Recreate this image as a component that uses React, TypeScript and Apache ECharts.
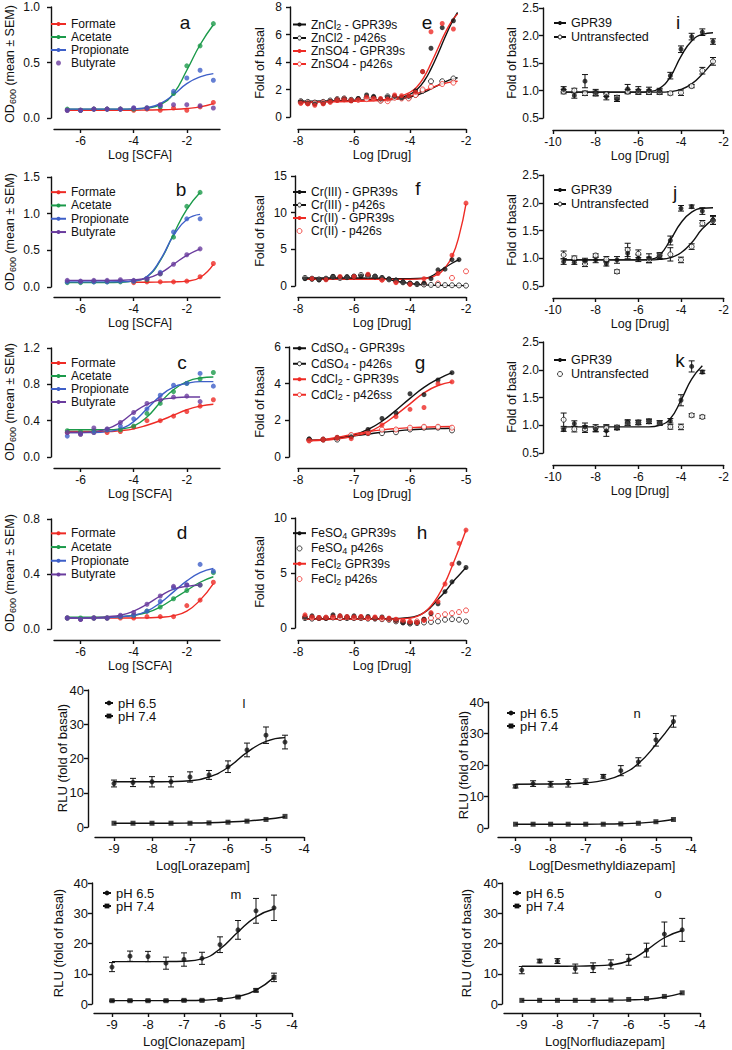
import React, { useEffect, useRef } from 'react';
import * as echarts from 'echarts';

const FONT = "'Liberation Sans', Arial, Helvetica, sans-serif";
const RED = '#ee2b25';
const GREEN = '#1b9a4a';
const BLUE = '#3e5fc8';
const PURPLE = '#6a3c9e';
const BLACK = '#111111';

// ---------- Panels a-d (SCFA) ----------
const scfaX = [-6.5, -6, -5.5, -5, -4.5, -4, -3.5, -3, -2.5, -2, -1.5, -1];
const scfaX11 = [-6.5, -6, -5.5, -5, -4.5, -4, -3.5, -3, -2.5, -2, -1.5];
const bFormateX = [-4, -3.5, -3, -2.5, -2, -1.5, -1];

const aFormate = [0.07, 0.07, 0.08, 0.08, 0.08, 0.07, 0.08, 0.07, 0.09, 0.07, 0.1, 0.14];
const aAcetate = [0.08, 0.07, 0.08, 0.08, 0.08, 0.08, 0.09, 0.1, 0.22, 0.47, 0.65, 0.85];
const aPropionate = [0.07, 0.07, 0.08, 0.08, 0.08, 0.09, 0.09, 0.11, 0.24, 0.36, 0.43, 0.34];
const aButyrate = [0.07, 0.07, 0.08, 0.08, 0.08, 0.09, 0.09, 0.12, 0.12, 0.12, 0.11, 0.09];
const aFormateFit = [0.07, 0.07, 0.07, 0.07, 0.07, 0.07, 0.072, 0.074, 0.078, 0.086, 0.1, 0.13];
const aAcetateFit = [0.08, 0.08, 0.08, 0.08, 0.08, 0.082, 0.09, 0.12, 0.22, 0.43, 0.66, 0.84];
const aPropionateFit = [0.08, 0.08, 0.08, 0.08, 0.08, 0.082, 0.092, 0.13, 0.21, 0.31, 0.37, 0.4];

const bFormate = [0.06, 0.07, 0.07, 0.07, 0.08, 0.14, 0.32];
const bFormateFit = [0.065, 0.065, 0.067, 0.07, 0.08, 0.13, 0.31];
const bAcetate = [0.06, 0.06, 0.07, 0.07, 0.07, 0.08, 0.1, 0.18, 0.68, 1.1, 1.29];
const bAcetateFit = [0.06, 0.06, 0.06, 0.06, 0.065, 0.08, 0.14, 0.36, 0.72, 1.06, 1.29];
const bPropionate = [0.07, 0.07, 0.07, 0.07, 0.08, 0.08, 0.12, 0.2, 0.75, 0.93, 0.93];
const bPropionateFit = [0.07, 0.07, 0.07, 0.07, 0.072, 0.085, 0.14, 0.37, 0.7, 0.92, 0.99];
const bButyrate = [0.09, 0.08, 0.09, 0.09, 0.1, 0.09, 0.11, 0.18, 0.31, 0.44, 0.52];
const bButyrateFit = [0.09, 0.09, 0.09, 0.09, 0.092, 0.1, 0.12, 0.19, 0.31, 0.43, 0.52];

const cFormate = [0.27, 0.25, 0.27, 0.27, 0.28, 0.33, 0.4, 0.4, 0.45, 0.5, 0.56, 0.63];
const cFormateFit = [0.28, 0.28, 0.28, 0.28, 0.29, 0.31, 0.35, 0.4, 0.46, 0.52, 0.56, 0.58];
const cAcetate = [0.29, 0.28, 0.29, 0.3, 0.3, 0.34, 0.48, 0.59, 0.72, 0.81, 0.86, 0.93];
const cAcetateFit = [0.3, 0.3, 0.3, 0.3, 0.31, 0.34, 0.44, 0.6, 0.74, 0.83, 0.87, 0.88];
const cPropionate = [0.23, 0.25, 0.27, 0.3, 0.34, 0.42, 0.53, 0.68, 0.79, 0.81, 0.92, 0.78];
const cPropionateFit = [0.27, 0.27, 0.27, 0.28, 0.31, 0.39, 0.53, 0.67, 0.77, 0.81, 0.83, 0.83];
const cButyrate = [0.27, 0.26, 0.32, 0.31, 0.38, 0.49, 0.59, 0.63, 0.66, 0.67, 0.61];
const cButyrateFit = [0.27, 0.27, 0.28, 0.31, 0.38, 0.49, 0.58, 0.63, 0.65, 0.66, 0.66];

const dFormate = [0.08, 0.07, 0.08, 0.08, 0.08, 0.08, 0.09, 0.09, 0.09, 0.17, 0.21, 0.34];
const dFormateFit = [0.08, 0.08, 0.08, 0.08, 0.08, 0.08, 0.081, 0.085, 0.097, 0.13, 0.21, 0.33];
const dAcetate = [0.08, 0.08, 0.08, 0.08, 0.09, 0.1, 0.13, 0.16, 0.22, 0.28, 0.32, 0.41];
const dAcetateFit = [0.085, 0.085, 0.085, 0.086, 0.09, 0.1, 0.12, 0.16, 0.22, 0.28, 0.34, 0.38];
const dPropionate = [0.08, 0.07, 0.08, 0.08, 0.09, 0.1, 0.13, 0.2, 0.3, 0.32, 0.47, 0.42];
const dPropionateFit = [0.08, 0.08, 0.08, 0.082, 0.09, 0.1, 0.13, 0.19, 0.27, 0.35, 0.41, 0.44];
const dButyrate = [0.08, 0.07, 0.08, 0.08, 0.1, 0.12, 0.18, 0.24, 0.31, 0.32, 0.32];
const dButyrateFit = [0.08, 0.08, 0.082, 0.09, 0.1, 0.13, 0.18, 0.24, 0.29, 0.31, 0.32];

// ---------- Panel e (zinc) ----------
const eX = [-7.9, -7.65, -7.4, -7.1, -6.85, -6.6, -6.35, -6.1, -5.85, -5.55, -5.3, -5.05, -4.8, -4.55, -4.3, -4.05, -3.8, -3.55, -3.25, -2.85, -2.45];
const eZnCl2G = [1.1, 1.0, 0.95, 1.0, 1.15, 1.25, 1.3, 1.2, 1.35, 1.6, 1.5, 1.3, 1.45, 1.5, 1.4, 1.5, 1.9, 3.3, 5.0, 6.5, 7.0];
const eZnCl2P = [1.15, 1.1, 1.05, 1.1, 1.2, 1.3, 1.35, 1.25, 1.3, 1.4, 1.4, 1.2, 1.5, 1.45, 1.4, 1.4, 1.6, 1.9, 2.6, 2.6, 2.8];
const eZnSO4G = [1.0, 0.95, 0.85, 0.95, 1.1, 1.2, 1.25, 1.2, 1.25, 1.45, 1.35, 1.35, 1.3, 1.6, 1.55, 1.55, 1.8, 3.3, 6.2, 6.8, 6.4];
const eZnSO4P = [1.05, 1.0, 1.0, 1.05, 1.1, 1.25, 1.3, 1.2, 1.25, 1.3, 1.35, 1.2, 1.15, 1.4, 1.35, 1.35, 1.6, 2.0, 2.2, 2.4, 2.5];
const eFitX = [-7.9, -7, -6, -5, -4.5, -4, -3.75, -3.5, -3.25, -3, -2.75, -2.5, -2.3];
const eZnCl2GFit = [1.1, 1.15, 1.2, 1.25, 1.35, 1.65, 2.0, 2.6, 3.5, 4.6, 5.8, 6.9, 7.6];
const eZnSO4GFit = [1.05, 1.1, 1.15, 1.25, 1.4, 1.8, 2.2, 2.9, 3.9, 5.0, 6.1, 7.0, 7.5];
const eZnCl2PFit = [1.15, 1.15, 1.2, 1.25, 1.3, 1.45, 1.6, 1.8, 2.05, 2.3, 2.55, 2.75, 2.85];
const eZnSO4PFit = [1.1, 1.12, 1.15, 1.2, 1.3, 1.5, 1.7, 1.9, 2.1, 2.3, 2.45, 2.55, 2.6];

// ---------- Panel f (chromium) ----------
const fX = [-7.75, -7.5, -7.25, -7, -6.75, -6.5, -6.25, -6, -5.75, -5.5, -5.25, -5, -4.75, -4.5, -4.25, -4, -3.75, -3.5, -3.25, -3, -2.75, -2.5, -2.25, -2];
const fCr3G = [1.0, 0.95, 0.85, 0.95, 1.3, 1.2, 1.25, 1.3, 1.35, 1.5, 1.3, 1.1, 0.95, 0.8, 0.55, 0.35, 0.3, 0.4, 1.0, 2.2, 2.3, 3.6, 3.6, null];
const fCr3P = [1.1, 1.0, 0.9, 1.0, 1.25, 1.1, 1.2, 1.3, 1.5, 1.4, 1.3, 1.1, 0.9, 0.75, 0.5, 0.35, 0.25, 0.2, 0.15, 0.15, 0.12, 0.1, 0.08, 0.05];
const fRedX = [-7.5, -7, -6.5, -6, -5.5, -5, -4.5, -4, -3.5, -3, -2.5, -2];
const fCr2G = [1.0, 0.85, 1.3, 1.3, 1.6, 0.8, 0.45, 0.25, 1.0, 1.7, 4.2, 11.3];
const fCr2PX = [-5, -4.5, -4, -3.5, -3, -2.5, -2];
const fCr2P = [0.9, 0.6, 0.3, 0.3, 0.35, 1.1, 2.0];
const fCr3GFitX = [-7.75, -6, -5, -4, -3.5, -3.25, -3, -2.5, -2.25];
const fCr3GFit = [1.0, 1.0, 1.0, 1.0, 1.05, 1.3, 1.9, 3.1, 3.6];
const fCr3PFitX = [-7.75, -6, -5, -4.75, -4.5, -4, -3.5, -3, -2];
const fCr3PFit = [1.1, 1.1, 1.05, 0.9, 0.65, 0.35, 0.15, 0.08, 0.05];
const fCr2GFitX = [-7.75, -6, -4, -3.5, -3, -2.75, -2.5, -2.25, -2];
const fCr2GFit = [0.9, 0.9, 0.9, 1.0, 1.6, 2.5, 4.0, 6.8, 11.2];

// ---------- Panel g (cadmium) ----------
const gX = [-7.8, -7.55, -7.3, -7.05, -6.75, -6.5, -6.25, -6.0, -5.75, -5.5, -5.25];
const gCdSO4G = [0.98, 0.95, 1.05, 1.1, 1.5, 2.1, 2.4, 3.45, 3.4, 4.2, 4.6];
const gCdSO4P = [0.95, 0.95, 0.95, 1.15, 1.3, 1.3, 1.35, 1.5, 1.6, 1.6, 1.45];
const gCdCl2G = [0.9, 0.95, 1.05, 1.0, 1.3, 1.75, 2.2, 2.6, 2.7, 4.0, 4.1];
const gCdCl2P = [0.9, 0.95, 1.05, 1.2, 1.35, 1.5, 1.5, 1.6, 1.65, 1.65, 1.6];
const gFitX = [-7.8, -7.5, -7.25, -7, -6.75, -6.5, -6.25, -6, -5.75, -5.5, -5.25];
const gCdSO4GFit = [0.9, 0.95, 1.05, 1.2, 1.5, 1.95, 2.55, 3.2, 3.8, 4.25, 4.6];
const gCdCl2GFit = [0.88, 0.92, 1.0, 1.15, 1.35, 1.75, 2.3, 2.9, 3.5, 3.9, 4.1];
const gCdSO4PFit = [0.9, 0.95, 1.05, 1.15, 1.25, 1.35, 1.42, 1.48, 1.52, 1.55, 1.57];
const gCdCl2PFit = [0.9, 0.97, 1.1, 1.25, 1.38, 1.48, 1.55, 1.6, 1.63, 1.65, 1.66];

// ---------- Panel h (iron) ----------
const hX = [-7.75, -7.5, -7.25, -7, -6.75, -6.5, -6.25, -6, -5.75, -5.5, -5.25, -5, -4.75, -4.5, -4.25, -4, -3.75, -3.5, -3.25, -3, -2.75, -2.5, -2.25, -2];
const hFeCl2G = [1.2, 1.0, 0.95, 0.95, 1.0, 1.1, 1.0, 1.0, 1.05, 0.95, 1.0, 0.95, 0.9, 0.8, 0.7, 0.55, 0.5, 0.7, 1.4, 2.4, 4.0, 5.8, 7.7, 8.9];
const hFeSO4G = [1.0, 1.1, 0.9, 0.9, 1.2, 1.1, 1.0, 1.1, 1.0, 1.05, 0.9, 1.0, 0.85, 0.7, 0.5, 0.45, 0.5, 0.8, 1.3, 2.2, 3.3, 4.2, 5.9, 5.5];
const hFeSO4P = [0.9, 0.85, 0.9, 0.9, 0.95, 0.9, 0.9, 0.9, 0.9, 0.85, 0.85, 0.8, 0.75, 0.6, 0.5, 0.4, 0.45, 0.5, 0.55, 0.6, 0.75, 0.8, 0.75, 0.6];
const hFeCl2P = [1.0, 0.95, 0.9, 0.95, 1.0, 0.95, 1.0, 0.95, 0.95, 0.9, 0.9, 0.85, 0.8, 0.7, 0.6, 0.55, 0.6, 0.75, 0.9, 1.1, 1.25, 1.35, 1.45, 1.6];
const hFitX = [-7.75, -6, -5, -4.5, -4, -3.75, -3.5, -3.25, -3, -2.75, -2.5, -2.25, -2];
const hFeCl2GFit = [0.8, 0.8, 0.8, 0.82, 0.9, 1.05, 1.4, 2.0, 2.9, 4.1, 5.6, 7.2, 8.9];
const hFeSO4GFit = [0.85, 0.85, 0.85, 0.87, 0.95, 1.1, 1.4, 1.9, 2.6, 3.3, 4.1, 4.8, 5.5];

// ---------- Panels i-k ----------
const ijX = [-9.5, -9, -8.5, -8, -7.5, -7, -6.5, -6, -5.5, -5, -4.5, -4, -3.5, -3, -2.5];
const kX = [-9.5, -9, -8.5, -8, -7.5, -7, -6.5, -6, -5.5, -5, -4.5, -4, -3.5, -3];
const iGPR = [1.02, 0.91, 1.17, 0.96, 0.89, 0.85, 1.03, 1.0, 1.0, 0.99, 1.27, 1.75, 1.98, 2.06, 1.89];
const iGPRErr = [0.05, 0.05, 0.12, 0.06, 0.06, 0.05, 0.08, 0.07, 0.06, 0.05, 0.06, 0.06, 0.06, 0.06, 0.05];
const iUnt = [0.98, 1.0, 0.95, 0.95, 0.93, 0.87, 0.98, 0.98, 0.97, 0.97, 0.95, 0.96, 1.08, 1.36, 1.53];
const iUntErr = [0.04, 0.04, 0.04, 0.04, 0.04, 0.04, 0.04, 0.04, 0.04, 0.04, 0.03, 0.05, 0.03, 0.06, 0.07];
const ijFitX = [-9.5, -6, -5.5, -5, -4.5, -4, -3.5, -3, -2.5];
const iGPRFit = [0.97, 0.97, 0.98, 1.04, 1.25, 1.62, 1.9, 2.02, 2.05];
const iUntFit = [0.97, 0.97, 0.97, 0.97, 0.98, 1.02, 1.12, 1.3, 1.52];
const jGPR = [0.94, 0.93, 0.95, 0.97, 0.9, 0.97, 1.09, 1.0, 1.0, 1.04, 1.32, 1.9, 1.93, 1.85, 1.69];
const jGPRErr = [0.05, 0.04, 0.05, 0.05, 0.04, 0.06, 0.1, 0.06, 0.08, 0.05, 0.08, 0.05, 0.03, 0.06, 0.08];
const jUnt = [1.06, 1.0, 0.9, 1.05, 0.98, 0.76, 1.15, 1.08, 0.97, 1.05, 1.07, 0.97, 1.21, 1.63, 1.68];
const jUntErr = [0.07, 0.04, 0.05, 0.03, 0.05, 0.03, 0.12, 0.07, 0.05, 0.05, 0.12, 0.05, 0.05, 0.05, 0.07];
const jGPRFit = [0.97, 0.97, 0.98, 1.06, 1.33, 1.64, 1.83, 1.9, 1.91];
const jUntFit = [0.97, 0.97, 0.97, 0.98, 1.01, 1.1, 1.28, 1.53, 1.7];
const kGPR = [0.92, 1.03, 0.97, 0.93, 0.9, 0.95, 1.05, 1.05, 1.07, 1.04, 1.08, 1.45, 2.06, 1.96];
const kGPRErr = [0.03, 0.05, 0.07, 0.05, 0.1, 0.03, 0.05, 0.04, 0.04, 0.04, 0.04, 0.1, 0.1, 0.03];
const kUnt = [1.1, 0.93, 0.93, 0.95, 0.95, 0.96, 1.04, 1.05, 1.07, 1.04, 0.97, 0.97, 1.18, 1.15];
const kUntErr = [0.12, 0.05, 0.06, 0.06, 0.06, 0.04, 0.04, 0.04, 0.04, 0.04, 0.04, 0.05, 0.03, 0.03];
const kFitX = [-9.5, -5.5, -5, -4.5, -4, -3.5, -3];
const kGPRFit = [0.97, 0.97, 1.0, 1.12, 1.45, 1.83, 2.07];

// ---------- Panels l, n, m, o (benzodiazepines) ----------
const bzX = [-9, -8.5, -8, -7.5, -7, -6.5, -6, -5.5, -5, -4.5];
const bzFitX = [-9, -8, -7.5, -7, -6.5, -6, -5.5, -5, -4.5];
const l65 = [12.7, 13.0, 13.2, 13.2, 14.6, 15.2, 17.6, 22.5, 26.8, 24.8];
const l65Err = [1.0, 1.2, 1.5, 1.5, 1.5, 1.3, 1.7, 2.0, 2.4, 2.0];
const l74 = [1.1, 1.1, 1.1, 1.1, 1.1, 1.2, 1.4, 1.7, 2.2, 3.1];
const l65Fit = [13.2, 13.2, 13.25, 13.5, 14.6, 17.4, 21.8, 25.0, 26.1];
const l74Fit = [1.1, 1.1, 1.1, 1.15, 1.25, 1.45, 1.75, 2.25, 3.0];
const n65 = [13.2, 14.1, 13.9, 14.2, 14.7, 16.4, 18.2, 21.0, 28.0, 33.8];
const n65Err = [0.5, 0.9, 0.9, 1.2, 0.9, 0.6, 1.6, 1.3, 2.0, 1.8];
const n74 = [1.2, 1.2, 1.2, 1.2, 1.2, 1.2, 1.3, 1.5, 2.0, 2.7];
const n65Fit = [13.9, 13.95, 14.05, 14.35, 15.1, 16.9, 20.5, 26.5, 33.6];
const n74Fit = [1.2, 1.2, 1.2, 1.2, 1.25, 1.35, 1.55, 1.95, 2.7];
const m65 = [12.2, 15.8, 15.7, 13.5, 14.7, 15.1, 19.6, 24.5, 30.8, 31.8];
const m65Err = [1.5, 1.7, 1.7, 2.0, 2.2, 2.0, 2.6, 3.1, 4.1, 4.2];
const m74 = [1.1, 1.1, 1.1, 1.1, 1.2, 1.2, 1.5, 2.3, 4.5, 8.8];
const m74Err = [0.2, 0.2, 0.2, 0.2, 0.2, 0.2, 0.2, 0.3, 0.5, 1.4];
const m65Fit = [14.0, 14.0, 14.02, 14.15, 14.9, 18.2, 23.8, 28.8, 31.4];
const m74Fit = [1.1, 1.1, 1.1, 1.15, 1.25, 1.6, 2.5, 4.6, 8.8];
const o65 = [11.2, 14.2, 14.2, 11.7, 12.0, 13.1, 14.6, 17.8, 23.1, 24.5];
const o65Err = [1.2, 0.6, 0.8, 1.5, 1.6, 1.5, 1.8, 2.3, 4.0, 3.8];
const o74 = [1.2, 1.2, 1.2, 1.2, 1.2, 1.3, 1.5, 1.8, 2.5, 3.7];
const o65Fit = [12.5, 12.5, 12.52, 12.62, 12.95, 14.3, 17.8, 21.9, 24.3];
const o74Fit = [1.2, 1.2, 1.2, 1.2, 1.25, 1.35, 1.6, 2.3, 3.6];

// ---------- Axis tick values ----------
const scfaTicks = [-6, -4, -2];
const drugTicks = [-8, -6, -4, -2];
const cdTicks = [-8, -7, -6, -5];
const ikTicks = [-10, -8, -6, -4, -2];
const bzTicks = [-9, -8, -7, -6, -5, -4];

// ---------- Layout (grid index order: a b c d e f g h i j k l n m o) ----------
const layouts = [
  { left: 54, top: 7, width: 166, height: 111, xMin: -7, xMax: -0.75, xTicks: scfaTicks, yMin: 0, yMax: 1, yTicks: [0, 0.5, 1], dec: 1, yOff: 3, xOff: 11, fs: 12, yMargin: 11, xMargin: 6 },
  { left: 54, top: 177, width: 166, height: 110, xMin: -7, xMax: -0.75, xTicks: scfaTicks, yMin: 0, yMax: 1.5, yTicks: [0, 0.5, 1, 1.5], dec: 1, yOff: 3, xOff: 10, fs: 12, yMargin: 11, xMargin: 6 },
  { left: 54, top: 348, width: 166, height: 109, xMin: -7, xMax: -0.75, xTicks: scfaTicks, yMin: 0, yMax: 1.2, yTicks: [0, 0.4, 0.8, 1.2], dec: 1, yOff: 3, xOff: 11, fs: 12, yMargin: 11, xMargin: 6 },
  { left: 54, top: 519, width: 166, height: 110, xMin: -7, xMax: -0.75, xTicks: scfaTicks, yMin: 0, yMax: 0.8, yTicks: [0, 0.4, 0.8], dec: 1, yOff: 3, xOff: 11, fs: 12, yMargin: 11, xMargin: 6 },
  { left: 298, top: 7, width: 168, height: 110, xMin: -8, xMax: -2, xTicks: drugTicks, yMin: 0, yMax: 8, yTicks: [0, 2, 4, 6, 8], dec: 0, yOff: 8, xOff: 12, fs: 12, yMargin: 8, xMargin: 6 },
  { left: 298, top: 176, width: 168, height: 110, xMin: -8, xMax: -2, xTicks: drugTicks, yMin: 0, yMax: 15, yTicks: [0, 5, 10, 15], dec: 0, yOff: 3, xOff: 11, fs: 12, yMargin: 8, xMargin: 6 },
  { left: 298, top: 347, width: 168, height: 110, xMin: -8, xMax: -5, xTicks: cdTicks, yMin: 0, yMax: 6, yTicks: [0, 2, 4, 6], dec: 0, yOff: 9, xOff: 11, fs: 12, yMargin: 8, xMargin: 6 },
  { left: 298, top: 518, width: 168, height: 110, xMin: -8, xMax: -2, xTicks: drugTicks, yMin: 0, yMax: 10, yTicks: [0, 5, 10], dec: 0, yOff: 3, xOff: 12, fs: 12, yMargin: 8, xMargin: 6 },
  { left: 553, top: 8, width: 173, height: 110, xMin: -10, xMax: -2, xTicks: ikTicks, yMin: 0.5, yMax: 2.5, yTicks: [0.5, 1, 1.5, 2, 2.5], dec: 1, yOff: 10, xOff: 12, fs: 12, yMargin: 4, xMargin: 6 },
  { left: 553, top: 175, width: 173, height: 111, xMin: -10, xMax: -2, xTicks: ikTicks, yMin: 0.5, yMax: 2.5, yTicks: [0.5, 1, 1.5, 2, 2.5], dec: 1, yOff: 10, xOff: 12, fs: 12, yMargin: 4, xMargin: 6 },
  { left: 553, top: 342, width: 173, height: 111, xMin: -10, xMax: -2, xTicks: ikTicks, yMin: 0.5, yMax: 2.5, yTicks: [0.5, 1, 1.5, 2, 2.5], dec: 1, yOff: 10, xOff: 12, fs: 12, yMargin: 4, xMargin: 6 },
  { left: 95, top: 690, width: 209, height: 137, xMin: -9.5, xMax: -4, xTicks: bzTicks, yMin: 0, yMax: 40, yTicks: [0, 10, 20, 30, 40], dec: 0, yOff: 7, xOff: 10, fs: 13, yMargin: 4, xMargin: 5 },
  { left: 498, top: 702, width: 193, height: 126, xMin: -9.5, xMax: -4, xTicks: bzTicks, yMin: 0, yMax: 40, yTicks: [0, 10, 20, 30, 40], dec: 0, yOff: 10, xOff: 9, fs: 13, yMargin: 4, xMargin: 5 },
  { left: 94, top: 883, width: 198, height: 121, xMin: -9.5, xMax: -4, xTicks: bzTicks, yMin: 0, yMax: 40, yTicks: [0, 10, 20, 30, 40], dec: 0, yOff: 2, xOff: 9, fs: 13, yMargin: 4, xMargin: 5 },
  { left: 504, top: 883, width: 196, height: 121, xMin: -9.5, xMax: -4, xTicks: bzTicks, yMin: 0, yMax: 40, yTicks: [0, 10, 20, 30, 40], dec: 0, yOff: 2, xOff: 9, fs: 13, yMargin: 4, xMargin: 5 },
];

const LABELS: Record<string, string> = {
  'e:ZnCl2 - GPR39s': '{n|ZnCl}{s|2}{n| - GPR39s}',
  'g:CdSO4 - GPR39s': '{n|CdSO}{s|4}{n| - GPR39s}',
  'g:CdSO4 - p426s': '{n|CdSO}{s|4}{n| - p426s}',
  'g:CdCl2 - GPR39s': '{n|CdCl}{s|2}{n| - GPR39s}',
  'g:CdCl2 - p426ss': '{n|CdCl}{s|2}{n| - p426ss}',
  'h:FeSO4 GPR39s': '{n|FeSO}{s|4}{n| GPR39s}',
  'h:FeSO4 p426s': '{n|FeSO}{s|4}{n| p426s}',
  'h:FeCl2 GPR39s': '{n|FeCl}{s|2}{n| GPR39s}',
  'h:FeCl2 p426s': '{n|FeCl}{s|2}{n| p426s}',
};

function pairs(xs: number[], ys: (number | null)[]) {
  const out: number[][] = [];
  xs.forEach((x, i) => {
    const y = ys[i];
    if (y !== null && y !== undefined) out.push([x, y]);
  });
  return out;
}

function pts(p: number, name: string, xs: number[], ys: (number | null)[], color: string, open = false, symbol = 'circle', size = 5) {
  return {
    type: 'scatter', name, xAxisIndex: p, yAxisIndex: p,
    data: pairs(xs, ys), symbol, symbolSize: size, silent: true, z: 5,
    itemStyle: open ? { color: '#ffffff', borderColor: color, borderWidth: 1 } : { color, borderWidth: 0 },
  };
}

function fit(p: number, name: string, xs: number[], ys: number[], color: string, open = false, symbol = 'circle') {
  return {
    type: 'line', name, xAxisIndex: p, yAxisIndex: p,
    data: pairs(xs, ys), smooth: 0.5, showSymbol: false, symbol, silent: true, z: 3,
    lineStyle: { color, width: 1.4 },
    itemStyle: open ? { color: '#ffffff', borderColor: color, borderWidth: 1 } : { color, borderWidth: 0 },
  };
}

function errs(p: number, xs: number[], ys: number[], es: number[], color: string, cap = 3) {
  return {
    type: 'custom', xAxisIndex: p, yAxisIndex: p, silent: true, z: 4,
    encode: { x: 0, y: [1, 2] },
    data: xs.map((x, i) => [x, ys[i] - es[i], ys[i] + es[i]]),
    renderItem: (_params: any, api: any) => {
      const lo = api.coord([api.value(0), api.value(1)]);
      const hi = api.coord([api.value(0), api.value(2)]);
      const st = { stroke: color, lineWidth: 1 };
      return {
        type: 'group',
        children: [
          { type: 'line', shape: { x1: lo[0], y1: lo[1], x2: hi[0], y2: hi[1] }, style: st },
          { type: 'line', shape: { x1: lo[0] - cap, y1: lo[1], x2: lo[0] + cap, y2: lo[1] }, style: st },
          { type: 'line', shape: { x1: hi[0] - cap, y1: hi[1], x2: hi[0] + cap, y2: hi[1] }, style: st },
        ],
      };
    },
  };
}

function leg(left: number, top: number, names: string[], itemWidth: number, lh: number, fs: number, itemHeight = 5) {
  return {
    show: true, orient: 'vertical', left, top, padding: 0, itemGap: 0, itemWidth, itemHeight,
    selectedMode: false, data: names,
    formatter: (n: string) => LABELS[n] || `{n|${n.slice(n.indexOf(':') + 1)}}`,
    itemStyle: { borderWidth: 1 },
    textStyle: {
      fontSize: fs, fontFamily: FONT, color: BLACK, lineHeight: lh,
      rich: {
        n: { fontSize: fs, fontFamily: FONT, color: BLACK, lineHeight: lh },
        s: { fontSize: Math.round(fs * 0.72), fontFamily: FONT, color: BLACK, lineHeight: lh - 5, padding: [5, 0, 0, 0] },
      },
    },
  };
}

function txt(text: string, x: number, y: number, size: number, rotate = false, rich = false) {
  const style: any = {
    text, x: 0, y: 0, font: `${size}px ${FONT}`, fill: BLACK,
    align: 'center', verticalAlign: 'middle', textAlign: 'center', textVerticalAlign: 'middle',
  };
  if (rich) {
    style.rich = {
      n: { fontSize: size, fontFamily: FONT, fill: BLACK, color: BLACK },
      s: { fontSize: Math.round(size * 0.72), fontFamily: FONT, fill: BLACK, color: BLACK, padding: [5, 0, 0, 0] },
    };
  }
  return { type: 'text', x, y, rotation: rotate ? Math.PI / 2 : 0, silent: true, style };
}

function buildOption() {
  const grid = layouts.map((L) => ({ left: L.left, top: L.top, width: L.width, height: L.height }));
  const axisLine = { show: true, onZero: false, lineStyle: { color: BLACK, width: 1.4 } };
  const xAxis = layouts.map((L, i) => ({
    type: 'value', gridIndex: i, min: L.xMin, max: L.xMax, offset: L.xOff,
    axisLine,
    axisTick: { show: true, inside: false, length: 4, customValues: L.xTicks, lineStyle: { color: BLACK, width: 1.4 } },
    axisLabel: { show: true, customValues: L.xTicks, margin: L.xMargin, fontSize: L.fs, fontFamily: FONT, color: BLACK, formatter: (v: number) => String(v) },
    splitLine: { show: false },
  }));
  const yAxis = layouts.map((L, i) => ({
    type: 'value', gridIndex: i, min: L.yMin, max: L.yMax, offset: L.yOff,
    axisLine,
    axisTick: { show: true, inside: false, length: 4, customValues: L.yTicks, lineStyle: { color: BLACK, width: 1.4 } },
    axisLabel: { show: true, customValues: L.yTicks, margin: L.yMargin, fontSize: L.fs, fontFamily: FONT, color: BLACK, formatter: (v: number) => v.toFixed(L.dec) },
    splitLine: { show: false },
  }));

  const s: any[] = [];
  // a
  s.push(fit(0, 'a:Formate', scfaX, aFormateFit, RED), fit(0, 'a:Acetate', scfaX, aAcetateFit, GREEN), fit(0, 'a:Propionate', scfaX, aPropionateFit, BLUE));
  s.push(pts(0, 'a-Formate', scfaX, aFormate, RED), pts(0, 'a-Acetate', scfaX, aAcetate, GREEN), pts(0, 'a-Propionate', scfaX, aPropionate, BLUE), pts(0, 'a:Butyrate', scfaX, aButyrate, PURPLE));
  // b
  s.push(fit(1, 'b:Formate', bFormateX, bFormateFit, RED), fit(1, 'b:Acetate', scfaX11, bAcetateFit, GREEN), fit(1, 'b:Propionate', scfaX11, bPropionateFit, BLUE), fit(1, 'b:Butyrate', scfaX11, bButyrateFit, PURPLE));
  s.push(pts(1, 'b-Formate', bFormateX, bFormate, RED), pts(1, 'b-Acetate', scfaX11, bAcetate, GREEN), pts(1, 'b-Propionate', scfaX11, bPropionate, BLUE), pts(1, 'b-Butyrate', scfaX11, bButyrate, PURPLE));
  // c
  s.push(fit(2, 'c:Formate', scfaX, cFormateFit, RED), fit(2, 'c:Acetate', scfaX, cAcetateFit, GREEN), fit(2, 'c:Propionate', scfaX, cPropionateFit, BLUE), fit(2, 'c:Butyrate', scfaX11, cButyrateFit, PURPLE));
  s.push(pts(2, 'c-Formate', scfaX, cFormate, RED), pts(2, 'c-Acetate', scfaX, cAcetate, GREEN), pts(2, 'c-Propionate', scfaX, cPropionate, BLUE), pts(2, 'c-Butyrate', scfaX11, cButyrate, PURPLE));
  // d
  s.push(fit(3, 'd:Formate', scfaX, dFormateFit, RED), fit(3, 'd:Acetate', scfaX, dAcetateFit, GREEN), fit(3, 'd:Propionate', scfaX, dPropionateFit, BLUE), fit(3, 'd:Butyrate', scfaX11, dButyrateFit, PURPLE));
  s.push(pts(3, 'd-Formate', scfaX, dFormate, RED), pts(3, 'd-Acetate', scfaX, dAcetate, GREEN), pts(3, 'd-Propionate', scfaX, dPropionate, BLUE), pts(3, 'd-Butyrate', scfaX11, dButyrate, PURPLE));
  // e
  s.push(fit(4, 'e:ZnCl2 - GPR39s', eFitX, eZnCl2GFit, BLACK), fit(4, 'e:ZnCl2 - p426s', eFitX, eZnCl2PFit, BLACK, true), fit(4, 'e:ZnSO4 - GPR39s', eFitX, eZnSO4GFit, RED), fit(4, 'e:ZnSO4 - p426s', eFitX, eZnSO4PFit, RED, true));
  s.push(pts(4, 'e-1', eX, eZnCl2P, BLACK, true), pts(4, 'e-2', eX, eZnSO4P, RED, true), pts(4, 'e-3', eX, eZnCl2G, BLACK), pts(4, 'e-4', eX, eZnSO4G, RED));
  // f
  s.push(fit(5, 'f:Cr(III) - GPR39s', fCr3GFitX, fCr3GFit, BLACK), fit(5, 'f:Cr(III) - p426s', fCr3PFitX, fCr3PFit, BLACK, true), fit(5, 'f:Cr(II) - GPR39s', fCr2GFitX, fCr2GFit, RED));
  s.push(pts(5, 'f:Cr(II) - p426s', fCr2PX, fCr2P, RED, true), pts(5, 'f-1', fX, fCr3P, BLACK, true), pts(5, 'f-2', fX, fCr3G, BLACK), pts(5, 'f-3', fRedX, fCr2G, RED));
  // g
  s.push(fit(6, 'g:CdSO4 - GPR39s', gFitX, gCdSO4GFit, BLACK), fit(6, 'g:CdSO4 - p426s', gFitX, gCdSO4PFit, BLACK, true), fit(6, 'g:CdCl2 - GPR39s', gFitX, gCdCl2GFit, RED), fit(6, 'g:CdCl2 - p426ss', gFitX, gCdCl2PFit, RED, true));
  s.push(pts(6, 'g-1', gX, gCdSO4P, BLACK, true), pts(6, 'g-2', gX, gCdCl2P, RED, true), pts(6, 'g-3', gX, gCdSO4G, BLACK), pts(6, 'g-4', gX, gCdCl2G, RED));
  // h
  s.push(fit(7, 'h:FeSO4 GPR39s', hFitX, hFeSO4GFit, BLACK), fit(7, 'h:FeCl2 GPR39s', hFitX, hFeCl2GFit, RED));
  s.push(pts(7, 'h:FeSO4 p426s', hX, hFeSO4P, BLACK, true), pts(7, 'h:FeCl2 p426s', hX, hFeCl2P, RED, true), pts(7, 'h-1', hX, hFeSO4G, BLACK), pts(7, 'h-2', hX, hFeCl2G, RED));
  // i
  s.push(fit(8, 'i:GPR39', ijFitX, iGPRFit, BLACK), fit(8, 'i:Untransfected', ijFitX, iUntFit, BLACK, true));
  s.push(errs(8, ijX, iGPR, iGPRErr, BLACK), errs(8, ijX, iUnt, iUntErr, BLACK));
  s.push(pts(8, 'i-1', ijX, iUnt, BLACK, true), pts(8, 'i-2', ijX, iGPR, BLACK));
  // j
  s.push(fit(9, 'j:GPR39', ijFitX, jGPRFit, BLACK), fit(9, 'j:Untransfected', ijFitX, jUntFit, BLACK, true));
  s.push(errs(9, ijX, jGPR, jGPRErr, BLACK), errs(9, ijX, jUnt, jUntErr, BLACK));
  s.push(pts(9, 'j-1', ijX, jUnt, BLACK, true), pts(9, 'j-2', ijX, jGPR, BLACK));
  // k
  s.push(fit(10, 'k:GPR39', kFitX, kGPRFit, BLACK));
  s.push(errs(10, kX, kGPR, kGPRErr, BLACK), errs(10, kX, kUnt, kUntErr, BLACK));
  s.push(pts(10, 'k:Untransfected', kX, kUnt, BLACK, true), pts(10, 'k-2', kX, kGPR, BLACK));
  // l, n, m, o
  const bz = [
    { p: 11, k: 'l', a: l65, ae: l65Err, b: l74, af: l65Fit, bf: l74Fit, be: null as number[] | null },
    { p: 12, k: 'n', a: n65, ae: n65Err, b: n74, af: n65Fit, bf: n74Fit, be: null as number[] | null },
    { p: 13, k: 'm', a: m65, ae: m65Err, b: m74, af: m65Fit, bf: m74Fit, be: m74Err },
    { p: 14, k: 'o', a: o65, ae: o65Err, b: o74, af: o65Fit, bf: o74Fit, be: null as number[] | null },
  ];
  bz.forEach((B) => {
    s.push(fit(B.p, `${B.k}:pH 6.5`, bzFitX, B.af, BLACK), fit(B.p, `${B.k}:pH 7.4`, bzFitX, B.bf, BLACK, false, 'rect'));
    s.push(errs(B.p, bzX, B.a, B.ae, BLACK));
    if (B.be) s.push(errs(B.p, bzX, B.b, B.be, BLACK));
    s.push(pts(B.p, `${B.k}-1`, bzX, B.a, BLACK, false, 'circle', 5), pts(B.p, `${B.k}-2`, bzX, B.b, BLACK, false, 'rect', 5));
  });

  const legend = [
    leg(50, 17.5, ['a:Formate', 'a:Acetate', 'a:Propionate', 'a:Butyrate'], 15, 13, 12),
    leg(50, 185.5, ['b:Formate', 'b:Acetate', 'b:Propionate', 'b:Butyrate'], 15, 13.3, 12),
    leg(50, 356.5, ['c:Formate', 'c:Acetate', 'c:Propionate', 'c:Butyrate'], 15, 13, 12),
    leg(50, 526.5, ['d:Formate', 'd:Acetate', 'd:Propionate', 'd:Butyrate'], 15, 13.7, 12),
    leg(292, 17.5, ['e:ZnCl2 - GPR39s', 'e:ZnCl2 - p426s', 'e:ZnSO4 - GPR39s', 'e:ZnSO4 - p426s'], 13, 13, 12),
    leg(292, 185.5, ['f:Cr(III) - GPR39s', 'f:Cr(III) - p426s', 'f:Cr(II) - GPR39s', 'f:Cr(II) - p426s'], 13, 13, 12),
    leg(292, 340.5, ['g:CdSO4 - GPR39s', 'g:CdSO4 - p426s', 'g:CdCl2 - GPR39s', 'g:CdCl2 - p426ss'], 13, 15.5, 12),
    leg(292, 525.5, ['h:FeSO4 GPR39s', 'h:FeSO4 p426s', 'h:FeCl2 GPR39s', 'h:FeCl2 p426s'], 13, 15.3, 12),
    leg(553, 16, ['i:GPR39', 'i:Untransfected'], 12, 14, 12.5),
    leg(553, 183, ['j:GPR39', 'j:Untransfected'], 12, 14, 12.5),
    leg(553, 353, ['k:GPR39', 'k:Untransfected'], 12, 14, 12.5),
    leg(104, 696.5, ['l:pH 6.5', 'l:pH 7.4'], 8, 11, 13, 6),
    leg(506, 706.5, ['n:pH 6.5', 'n:pH 7.4'], 8, 11, 13, 6),
    leg(102, 886.5, ['m:pH 6.5', 'm:pH 7.4'], 8, 11, 13, 6),
    leg(512, 886.5, ['o:pH 6.5', 'o:pH 7.4'], 8, 11, 13, 6),
  ];

  const od = '{n|OD}{s|600}{n| (mean ± SEM)}';
  const graphic = [
    // panel letters
    txt('a', 185, 22, 19), txt('b', 181, 189, 19), txt('c', 182, 362, 19), txt('d', 182, 532, 19),
    txt('e', 427, 22, 19), txt('f', 418, 188, 19), txt('g', 420, 362, 19), txt('h', 422, 532, 19),
    txt('i', 678, 22, 19), txt('j', 675, 192, 19), txt('k', 680, 360, 19),
    txt('l', 244, 703, 13), txt('n', 637, 713, 13), txt('m', 236, 894, 13), txt('o', 658, 893, 13),
    // x titles
    txt('Log [SCFA]', 140, 155, 12.5), txt('Log [SCFA]', 140, 323, 12.5), txt('Log [SCFA]', 140, 494, 12.5), txt('Log [SCFA]', 140, 666, 12.5),
    txt('Log [Drug]', 382, 155, 12.5), txt('Log [Drug]', 382, 323, 12.5), txt('Log [Drug]', 382, 494, 12.5), txt('Log [Drug]', 382, 666, 12.5),
    txt('Log [Drug]', 640, 156, 12.5), txt('Log [Drug]', 640, 324, 12.5), txt('Log [Drug]', 640, 491, 12.5),
    txt('Log[Lorazepam]', 203, 865, 13), txt('Log[Desmethyldiazepam]', 602, 865, 13),
    txt('Log[Clonazepam]', 194, 1041, 13), txt('Log[Norfludiazepam]', 605, 1041, 13),
    // y titles
    txt(od, 10, 64, 12.5, true, true), txt(od, 10, 232, 12.5, true, true), txt(od, 10, 402, 12.5, true, true), txt(od, 10, 573, 12.5, true, true),
    txt('Fold of basal', 260, 63, 12.5, true), txt('Fold of basal', 260, 231, 12.5, true), txt('Fold of basal', 260, 402, 12.5, true), txt('Fold of basal', 260, 572, 12.5, true),
    txt('Fold of basal', 512, 63, 12.5, true), txt('Fold of basal', 512, 230, 12.5, true), txt('Fold of basal', 512, 397, 12.5, true),
    txt('RLU (fold of basal)', 62, 758, 13, true), txt('RLU (fold of basal)', 463, 765, 13, true),
    txt('RLU (fold of basal)', 58, 943, 13, true), txt('RLU (fold of basal)', 466, 943, 13, true),
  ];

  return {
    animation: false,
    backgroundColor: '#ffffff',
    textStyle: { fontFamily: FONT },
    grid, xAxis, yAxis, series: s, legend, graphic,
  };
}

export default function App() {
  const ref = useRef<HTMLDivElement | null>(null);
  useEffect(() => {
    if (!ref.current) return;
    const chart = echarts.init(ref.current, undefined, { renderer: 'svg' });
    chart.setOption(buildOption() as any);
    return () => chart.dispose();
  }, []);
  return (
    <div
      ref={ref}
      style={{ position: 'absolute', left: 0, top: 0, width: 732, height: 1050, background: '#ffffff' }}
    />
  );
}
